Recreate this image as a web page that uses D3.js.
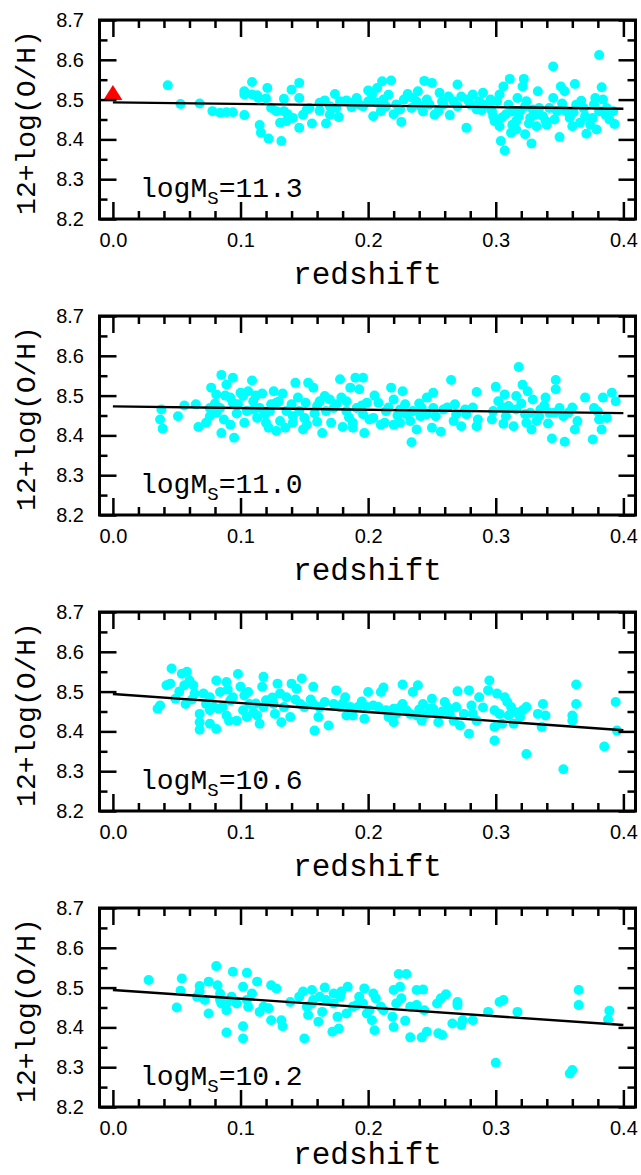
<!DOCTYPE html>
<html>
<head>
<meta charset="utf-8">
<script src="https://cdn.jsdelivr.net/npm/d3@7"></script>
<style>
body { margin: 0; background: #fff; }
.tick text { font-family: "Liberation Sans", Arial, sans-serif; font-size: 20px; fill: #000; }
.mono { font-family: "Liberation Mono", "Courier New", monospace; fill: #000; }
</style>
</head>
<body>
<svg id="chart"></svg>
<script>
var viewWidth = 641;
var viewHeight = 1175;

// tick values
var redshiftTicks = [0.0, 0.1, 0.2, 0.3, 0.4];
var redshiftMinor = [0.02, 0.04, 0.06, 0.08, 0.12, 0.14, 0.16, 0.18, 0.22, 0.24, 0.26, 0.28, 0.32, 0.34, 0.36, 0.38];
var ohTicks = [8.2, 8.3, 8.4, 8.5, 8.6, 8.7];
var ohMinor = [8.25, 8.35, 8.45, 8.55, 8.65];

// stellar mass of each panel
var massLabels = ["11.3", "11.0", "10.6", "10.2"];

// fitted lines (redshift, 12+log(O/H))
var fit113 = [[0, 8.493], [0.4, 8.477]];
var fit110 = [[0, 8.473], [0.4, 8.456]];
var fit106 = [[0, 8.494], [0.4, 8.403]];
var fit102 = [[0, 8.494], [0.4, 8.406]];

// local value (red triangle, top panel only)
var localPoint = [[0, 8.513]];

var points113 = [
  [0.043,8.536],[0.053,8.489],[0.068,8.490],[0.078,8.471],[0.084,8.467],[0.089,8.468],[0.094,8.468],[0.103,8.461],
  [0.103,8.521],[0.103,8.513],[0.109,8.544],[0.113,8.511],[0.115,8.436],[0.116,8.417],[0.122,8.402],[0.132,8.396],
  [0.121,8.529],[0.120,8.503],[0.124,8.479],[0.131,8.442],[0.134,8.471],[0.134,8.502],[0.140,8.525],[0.146,8.542],
  [0.146,8.504],[0.146,8.429],[0.141,8.454],[0.136,8.446],[0.149,8.462],[0.156,8.440],[0.154,8.479],[0.162,8.472],
  [0.167,8.440],[0.166,8.498],[0.170,8.462],[0.174,8.514],[0.177,8.456],[0.183,8.498],[0.187,8.481],[0.191,8.504],
  [0.196,8.483],[0.200,8.523],[0.204,8.458],[0.207,8.529],[0.211,8.546],[0.218,8.548],[0.216,8.512],[0.214,8.483],
  [0.210,8.471],[0.220,8.463],[0.222,8.488],[0.226,8.444],[0.231,8.514],[0.234,8.479],[0.239,8.521],[0.244,8.547],
  [0.250,8.542],[0.246,8.500],[0.252,8.462],[0.256,8.517],[0.255,8.471],[0.264,8.461],[0.263,8.508],[0.270,8.538],
  [0.273,8.508],[0.277,8.429],[0.282,8.513],[0.285,8.475],[0.290,8.517],[0.289,8.473],[0.295,8.483],[0.298,8.458],
  [0.303,8.513],[0.306,8.533],[0.303,8.433],[0.304,8.396],[0.307,8.372],[0.311,8.552],[0.310,8.487],[0.312,8.417],
  [0.317,8.504],[0.316,8.446],[0.322,8.552],[0.321,8.533],[0.324,8.496],[0.323,8.413],[0.328,8.390],[0.332,8.433],
  [0.333,8.521],[0.334,8.479],[0.340,8.437],[0.345,8.583],[0.345,8.504],[0.346,8.450],[0.350,8.406],[0.351,8.533],
  [0.354,8.521],[0.355,8.471],[0.360,8.433],[0.362,8.539],[0.363,8.487],[0.367,8.497],[0.370,8.458],[0.371,8.414],
  [0.376,8.454],[0.378,8.504],[0.379,8.425],[0.381,8.612],[0.383,8.531],[0.384,8.500],[0.387,8.479],[0.389,8.450],
  [0.393,8.439],[0.392,8.471],
  [0.297,8.471],[0.299,8.446],[0.308,8.463],[0.313,8.437],[0.319,8.471],[0.327,8.454],[0.329,8.475],[0.337,8.458],
  [0.342,8.479],[0.348,8.471],[0.358,8.454],[0.366,8.442],[0.374,8.437],[0.381,8.471],[0.301,8.496],[0.316,8.425],
  [0.323,8.483],[0.188,8.492],[0.193,8.488],[0.203,8.512],[0.207,8.492],[0.228,8.500],[0.235,8.504],[0.241,8.483],
  [0.248,8.488],[0.259,8.488],[0.267,8.496],[0.278,8.500],[0.287,8.496],[0.175,8.479],[0.178,8.496],[0.162,8.492],
  [0.170,8.483],[0.152,8.475],[0.137,8.463],[0.128,8.471],[0.114,8.504],[0.109,8.513],
  [0.305,8.455],[0.318,8.458],[0.331,8.462],[0.339,8.447],[0.352,8.490],[0.361,8.468],[0.369,8.478],[0.377,8.488],
  [0.386,8.462],[0.296,8.500],[0.313,8.470],[0.326,8.440],[0.200,8.495],[0.212,8.500],[0.225,8.475],[0.238,8.495],
  [0.258,8.495],[0.270,8.483],[0.280,8.488],[0.292,8.487],[0.243,8.470]
];

var points110 = [
  [0.038,8.465],[0.037,8.440],[0.039,8.417],[0.051,8.448],[0.056,8.475],[0.065,8.478],[0.067,8.421],[0.073,8.432],
  [0.076,8.448],[0.077,8.520],[0.081,8.503],[0.085,8.552],[0.089,8.528],[0.084,8.469],[0.085,8.406],[0.087,8.440],
  [0.092,8.427],[0.094,8.545],[0.095,8.394],[0.098,8.478],[0.100,8.507],[0.103,8.432],[0.106,8.511],[0.109,8.538],
  [0.110,8.486],[0.113,8.444],[0.117,8.505],[0.119,8.453],[0.122,8.419],[0.126,8.511],[0.124,8.478],[0.128,8.411],
  [0.131,8.436],[0.133,8.505],[0.135,8.419],[0.140,8.478],[0.141,8.448],[0.143,8.532],[0.149,8.415],[0.150,8.444],
  [0.151,8.482],[0.153,8.532],[0.157,8.520],[0.160,8.434],[0.162,8.486],[0.164,8.406],[0.166,8.499],[0.171,8.432],
  [0.173,8.469],[0.178,8.541],[0.179,8.495],[0.180,8.421],[0.183,8.461],[0.186,8.520],[0.188,8.419],[0.190,8.545],
  [0.193,8.516],[0.196,8.545],[0.197,8.406],[0.199,8.482],[0.201,8.440],[0.208,8.482],[0.213,8.432],[0.218,8.520],
  [0.220,8.490],[0.220,8.427],[0.227,8.511],[0.229,8.478],[0.233,8.436],[0.234,8.383],[0.235,8.461],[0.238,8.415],
  [0.242,8.469],[0.246,8.495],[0.250,8.419],[0.251,8.507],[0.253,8.448],[0.257,8.409],[0.259,8.465],[0.265,8.539],
  [0.268,8.478],[0.267,8.436],[0.273,8.423],[0.276,8.465],[0.285,8.509],[0.286,8.440],[0.285,8.423],[0.297,8.440],
  [0.300,8.522],[0.302,8.486],[0.306,8.429],[0.307,8.503],[0.310,8.474],[0.314,8.423],[0.318,8.572],[0.316,8.499],
  [0.321,8.527],[0.323,8.453],[0.325,8.511],[0.328,8.415],[0.329,8.490],[0.332,8.436],[0.335,8.465],[0.339,8.495],
  [0.341,8.430],[0.344,8.392],[0.346,8.457],[0.347,8.539],[0.347,8.516],[0.350,8.469],[0.354,8.384],[0.357,8.457],
  [0.362,8.415],[0.364,8.436],[0.370,8.495],[0.376,8.390],[0.377,8.469],[0.381,8.440],[0.383,8.415],[0.384,8.495],
  [0.387,8.444],[0.391,8.507],[0.394,8.486],
  [0.094,8.482],[0.105,8.461],[0.115,8.469],[0.123,8.461],[0.128,8.482],[0.136,8.461],[0.146,8.461],[0.160,8.474],
  [0.167,8.461],[0.175,8.478],[0.183,8.486],[0.191,8.469],[0.196,8.453],[0.204,8.444],[0.214,8.461],[0.225,8.465],
  [0.230,8.453],[0.241,8.448],[0.246,8.453],[0.251,8.469],[0.269,8.453],[0.277,8.453],[0.298,8.461],[0.308,8.448],
  [0.316,8.465],[0.327,8.457],[0.334,8.448],[0.342,8.457],[0.353,8.448],[0.120,8.432],[0.141,8.432],[0.152,8.427],
  [0.188,8.432],[0.210,8.427],[0.225,8.432],[0.324,8.432],[0.076,8.469],[0.081,8.457],[0.092,8.495],[0.102,8.499],
  [0.110,8.465],
  [0.080,8.480],[0.088,8.500],[0.097,8.455],[0.112,8.500],[0.130,8.485],[0.145,8.495],[0.158,8.455],[0.170,8.490],
  [0.185,8.445],[0.195,8.475],[0.205,8.500],[0.216,8.470],[0.223,8.450],[0.240,8.480],[0.262,8.470],[0.282,8.470],
  [0.305,8.470],[0.320,8.480],[0.338,8.475],[0.360,8.470],[0.380,8.460]
];

var points106 = [
  [0.035,8.457],[0.037,8.465],[0.046,8.558],[0.042,8.516],[0.045,8.520],[0.049,8.482],[0.054,8.545],[0.058,8.550],
  [0.056,8.516],[0.060,8.528],[0.063,8.516],[0.057,8.469],[0.064,8.495],[0.068,8.444],[0.068,8.423],[0.068,8.404],
  [0.076,8.419],[0.081,8.406],[0.076,8.486],[0.081,8.528],[0.084,8.499],[0.083,8.457],[0.089,8.524],[0.092,8.478],
  [0.091,8.427],[0.097,8.427],[0.098,8.544],[0.100,8.512],[0.102,8.453],[0.106,8.499],[0.105,8.436],[0.113,8.440],
  [0.115,8.419],[0.118,8.537],[0.117,8.512],[0.120,8.478],[0.127,8.444],[0.129,8.520],[0.131,8.495],[0.132,8.423],
  [0.136,8.486],[0.139,8.436],[0.140,8.520],[0.144,8.507],[0.148,8.533],[0.150,8.461],[0.157,8.512],[0.157,8.469],
  [0.158,8.402],[0.161,8.436],[0.166,8.474],[0.169,8.415],[0.175,8.503],[0.178,8.461],[0.182,8.486],[0.183,8.440],
  [0.188,8.440],[0.192,8.461],[0.197,8.432],[0.200,8.499],[0.199,8.461],[0.210,8.499],[0.212,8.510],[0.208,8.461],
  [0.216,8.436],[0.220,8.423],[0.220,8.457],[0.227,8.518],[0.227,8.469],[0.233,8.444],[0.235,8.499],[0.239,8.516],
  [0.242,8.427],[0.243,8.469],[0.250,8.482],[0.251,8.457],[0.255,8.423],[0.260,8.474],[0.267,8.427],[0.269,8.461],
  [0.270,8.501],[0.272,8.415],[0.279,8.394],[0.279,8.503],[0.281,8.465],[0.285,8.427],[0.287,8.486],[0.295,8.528],
  [0.294,8.503],[0.299,8.453],[0.299,8.411],[0.299,8.377],[0.301,8.495],[0.305,8.419],[0.307,8.486],[0.309,8.474],
  [0.314,8.419],[0.316,8.448],[0.324,8.461],[0.324,8.343],[0.333,8.444],[0.336,8.411],[0.337,8.469],[0.339,8.440],
  [0.353,8.305],[0.360,8.440],[0.360,8.427],[0.363,8.518],[0.363,8.469],[0.385,8.362],[0.394,8.474],[0.395,8.402],
  [0.071,8.495],[0.073,8.469],[0.079,8.461],[0.086,8.461],[0.094,8.486],[0.107,8.469],[0.110,8.448],[0.118,8.461],
  [0.126,8.469],[0.134,8.461],[0.147,8.469],[0.162,8.461],[0.173,8.469],[0.186,8.461],[0.204,8.465],[0.214,8.453],
  [0.222,8.444],[0.230,8.453],[0.238,8.440],[0.246,8.444],[0.254,8.444],[0.264,8.444],[0.275,8.444],[0.282,8.444],
  [0.303,8.444],[0.312,8.461],[0.319,8.436],[0.321,8.453],[0.262,8.461],[0.248,8.457],[0.076,8.453],[0.089,8.440],
  [0.052,8.500],[0.062,8.480],[0.090,8.505],[0.103,8.490],[0.112,8.470],[0.125,8.485],[0.143,8.480],[0.155,8.480],
  [0.180,8.470],[0.195,8.475],[0.225,8.460],[0.240,8.455],[0.258,8.450],[0.290,8.460],[0.310,8.440]
];

var points102 = [
  [0.028,8.519],[0.050,8.450],[0.053,8.492],[0.054,8.523],[0.068,8.504],[0.066,8.477],[0.072,8.469],[0.075,8.435],
  [0.075,8.515],[0.081,8.554],[0.082,8.506],[0.084,8.485],[0.085,8.460],[0.089,8.387],[0.089,8.443],[0.094,8.540],
  [0.093,8.477],[0.097,8.460],[0.102,8.502],[0.102,8.403],[0.102,8.372],[0.105,8.537],[0.106,8.452],[0.109,8.485],
  [0.113,8.515],[0.115,8.439],[0.122,8.448],[0.124,8.506],[0.124,8.418],[0.128,8.498],[0.132,8.418],[0.133,8.403],
  [0.139,8.464],[0.149,8.490],[0.150,8.372],[0.152,8.452],[0.153,8.431],[0.156,8.494],[0.161,8.414],[0.164,8.439],
  [0.166,8.500],[0.167,8.469],[0.172,8.389],[0.177,8.397],[0.176,8.427],[0.179,8.490],[0.183,8.435],[0.184,8.502],
  [0.188,8.452],[0.193,8.477],[0.197,8.498],[0.199,8.435],[0.203,8.418],[0.205,8.393],[0.204,8.485],[0.206,8.473],
  [0.210,8.452],[0.220,8.494],[0.219,8.427],[0.220,8.401],[0.224,8.534],[0.230,8.534],[0.225,8.502],[0.226,8.473],
  [0.229,8.417],[0.233,8.375],[0.238,8.494],[0.238,8.456],[0.243,8.495],[0.244,8.443],[0.242,8.375],[0.246,8.389],
  [0.255,8.385],[0.258,8.381],[0.254,8.460],[0.257,8.473],[0.261,8.483],[0.266,8.410],[0.270,8.464],[0.270,8.456],
  [0.273,8.406],[0.274,8.418],[0.282,8.418],[0.294,8.439],[0.303,8.464],[0.306,8.469],[0.300,8.311],[0.317,8.439],
  [0.358,8.284],[0.360,8.293],[0.365,8.494],[0.365,8.456],[0.389,8.442],[0.388,8.420],
  [0.146,8.477],[0.157,8.469],[0.162,8.477],[0.173,8.460],[0.178,8.477],[0.191,8.456],[0.196,8.460],[0.201,8.443],
  [0.212,8.443],[0.222,8.460],[0.233,8.452],[0.173,8.485],[0.089,8.460],[0.084,8.469],[0.105,8.469],[0.068,8.490],
  [0.118,8.452],[0.156,8.460]
];

var panels = [
  {points: points113, fit: fit113, mass: massLabels[0], local: localPoint},
  {points: points110, fit: fit110, mass: massLabels[1], local: []},
  {points: points106, fit: fit106, mass: massLabels[2], local: []},
  {points: points102, fit: fit102, mass: massLabels[3], local: []}
];

var left = 99.5, right = 635.5;
var panelHeight = 199;
var panelTops = [20, 316, 612, 908];

var svg = d3.select("#chart")
    .attr("width", viewWidth)
    .attr("height", viewHeight);

var x = d3.scaleLinear()
  .domain([-0.0105, 0.4095])
  .range([left, right]);
var y = d3.scaleLinear()
  .domain([8.2, 8.7])
  .range([panelHeight, 0]);

var fitLine = d3.line()
  .x(function(d) { return x(d[0]); })
  .y(function(d) { return y(d[1]); });

panels.forEach(function(p, i) {
  var g = svg.append("g")
    .attr("transform", "translate(0," + panelTops[i] + ")");

  // data points
  g.selectAll(".dot")
    .data(p.points)
    .enter().append("circle")
    .attr("class", "dot")
    .attr("r", 5)
    .attr("cx", function(d) { return x(d[0]); })
    .attr("cy", function(d) { return y(d[1]); })
    .style("fill", "#00ffff");

  g.append("path")
    .datum(p.fit)
    .attr("d", fitLine)
    .style("fill", "none")
    .style("stroke", "#000")
    .style("stroke-width", 2.4);

  g.selectAll(".local")
    .data(p.local)
    .enter().append("path")
    .attr("class", "local")
    .attr("d", "M0,-9.5L9.5,5.5L-9.5,5.5Z")
    .attr("transform", function(d) { return "translate(" + x(d[0]) + "," + y(d[1]) + ")"; })
    .style("fill", "#ff0000");

  // axes: majors with labels, minors without
  var axes = [
    {ax: d3.axisBottom(x).tickValues(redshiftTicks).tickSizeInner(-17).tickSizeOuter(0).tickPadding(14).tickFormat(d3.format(".1f")), t: "translate(0," + panelHeight + ")"},
    {ax: d3.axisBottom(x).tickValues(redshiftMinor).tickSizeInner(-8).tickSizeOuter(0).tickFormat(""), t: "translate(0," + panelHeight + ")"},
    {ax: d3.axisTop(x).tickValues(redshiftTicks).tickSizeInner(-17).tickSizeOuter(0).tickFormat(""), t: "translate(0,0)"},
    {ax: d3.axisTop(x).tickValues(redshiftMinor).tickSizeInner(-8).tickSizeOuter(0).tickFormat(""), t: "translate(0,0)"},
    {ax: d3.axisLeft(y).tickValues(ohTicks).tickSizeInner(-17).tickSizeOuter(0).tickPadding(15.5).tickFormat(d3.format(".1f")), t: "translate(" + left + ",0)"},
    {ax: d3.axisLeft(y).tickValues(ohMinor).tickSizeInner(-8).tickSizeOuter(0).tickFormat(""), t: "translate(" + left + ",0)"},
    {ax: d3.axisRight(y).tickValues(ohTicks).tickSizeInner(-17).tickSizeOuter(0).tickFormat(""), t: "translate(" + right + ",0)"},
    {ax: d3.axisRight(y).tickValues(ohMinor).tickSizeInner(-8).tickSizeOuter(0).tickFormat(""), t: "translate(" + right + ",0)"}
  ];
  axes.forEach(function(a) {
    var ag = g.append("g")
      .attr("transform", a.t)
      .call(a.ax);
    ag.select(".domain").remove();
    ag.selectAll(".tick line").style("stroke", "#000").style("stroke-width", 2.5);
  });

  // frame
  g.append("rect")
    .attr("x", left)
    .attr("y", 0)
    .attr("width", right - left)
    .attr("height", panelHeight)
    .style("fill", "none")
    .style("stroke", "#000")
    .style("stroke-width", 3);

  // mass label
  var lab = g.append("text")
    .attr("class", "mono")
    .attr("x", 140)
    .attr("y", panelHeight - 22.5)
    .style("font-size", "28px");
  lab.append("tspan").text("logM");
  lab.append("tspan").attr("dy", 7).style("font-size", "19px").text("S");
  lab.append("tspan").attr("dy", -7).text("=" + p.mass);

  // keep the last title inside the window
  var titleY = Math.min(panelHeight + 64.5, viewHeight - 11 - panelTops[i]);
  g.append("text")
    .attr("class", "mono")
    .attr("x", (left + right) / 2)
    .attr("y", titleY)
    .style("text-anchor", "middle")
    .style("font-size", "31px")
    .text("redshift");

  g.append("text")
    .attr("class", "mono")
    .attr("transform", "translate(35," + (panelHeight / 2 + 3) + ") rotate(-90)")
    .style("text-anchor", "middle")
    .style("font-size", "28px")
    .text("12+log(O/H)");
});
</script>
</body>
</html>
